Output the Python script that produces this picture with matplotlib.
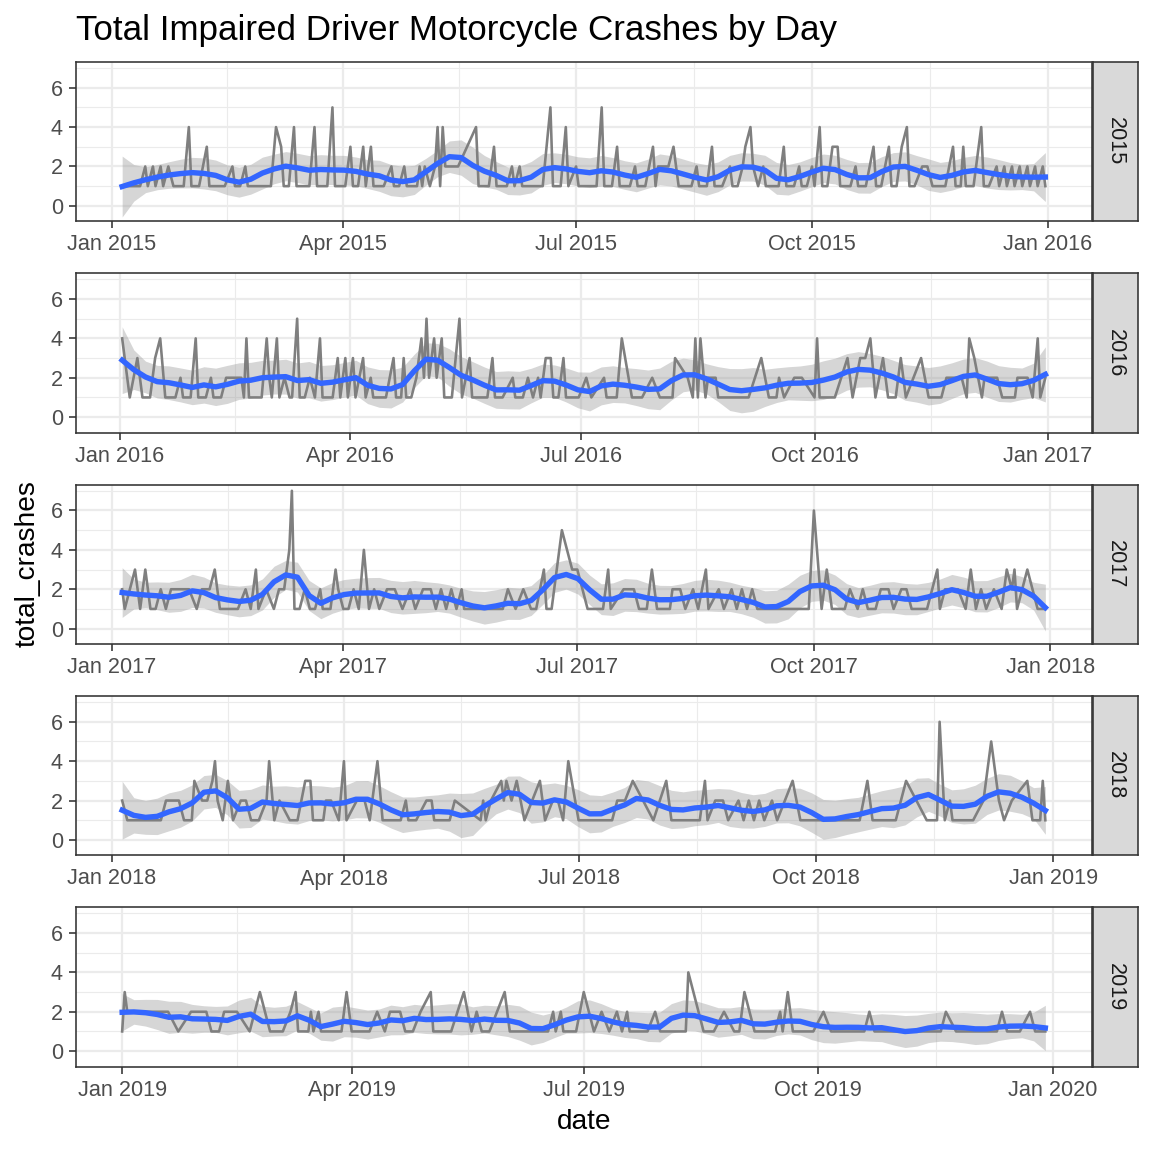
import datetime as dt

import matplotlib
matplotlib.use('Agg')
import matplotlib.pyplot as plt
import matplotlib.dates as mdates
import numpy as np

plt.rcParams['font.family'] = ['Liberation Sans', 'DejaVu Sans']

# ---- data: day of year (0 = Jan 1) and crash count, days with >=1 crash ----
years = [2015, 2016, 2017, 2018, 2019]

days_2015 = [4, 8, 11, 13, 14, 16, 17, 19, 20, 22,
             24, 26, 28, 30, 31, 34, 37, 38, 41, 44,
             47, 48, 50, 52, 53, 56, 59, 62, 64, 66,
             67, 69, 71, 72, 74, 77, 79, 80, 82, 84,
             86, 87, 89, 91, 93, 94, 96, 98, 99, 101,
             102, 104, 106, 109, 110, 112, 114, 115, 117, 119,
             120, 121, 122, 124, 126, 127, 128, 129, 130, 131,
             135, 142, 143, 145, 147, 149, 150, 152, 154, 156,
             157, 159, 160, 163, 166, 168, 171, 172, 175, 177,
             178, 181, 182, 183, 186, 189, 191, 192, 195, 197,
             198, 200, 202, 204, 205, 208, 211, 212, 213, 217,
             219, 221, 224, 226, 228, 229, 232, 234, 235, 238,
             241, 242, 244, 246, 247, 249, 250, 252, 254, 255,
             258, 260, 262, 263, 266, 268, 269, 271, 273, 274,
             276, 277, 279, 281, 283, 284, 286, 288, 290, 291,
             294, 297, 298, 300, 303, 304, 306, 308, 310, 311,
             313, 316, 318, 320, 322, 325, 328, 329, 331, 332,
             333, 336, 339, 340, 342, 345, 346, 348, 349, 351,
             352, 354, 355, 357, 358, 360, 361, 363, 364]
crashes_2015 = [1, 1, 1, 2, 1, 2, 1, 2, 1, 2,
                1, 1, 1, 4, 1, 1, 3, 1, 1, 1,
                2, 1, 1, 2, 1, 1, 1, 1, 4, 3,
                1, 1, 4, 1, 1, 1, 4, 1, 1, 1,
                5, 1, 1, 1, 3, 1, 1, 3, 1, 3,
                1, 1, 1, 2, 1, 1, 2, 1, 1, 1,
                2, 1, 2, 1, 2, 4, 1, 4, 2, 2,
                2, 4, 1, 1, 1, 3, 1, 1, 1, 2,
                1, 2, 1, 1, 1, 1, 5, 1, 1, 4,
                1, 2, 1, 1, 1, 1, 5, 1, 1, 3,
                1, 1, 1, 2, 1, 1, 3, 1, 2, 2,
                3, 1, 1, 1, 2, 1, 1, 3, 1, 1,
                2, 1, 1, 2, 3, 4, 2, 1, 2, 1,
                1, 1, 3, 1, 1, 2, 1, 1, 2, 1,
                4, 1, 1, 3, 3, 1, 1, 1, 2, 1,
                1, 3, 1, 1, 3, 1, 1, 3, 4, 1,
                1, 2, 2, 1, 1, 1, 3, 1, 1, 3,
                1, 1, 4, 1, 1, 2, 1, 2, 1, 2,
                1, 2, 1, 2, 1, 2, 1, 2, 1]

days_2016 = [1, 4, 7, 9, 12, 14, 16, 18, 20, 22,
             24, 25, 28, 30, 31, 34, 36, 37, 40, 42,
             45, 48, 49, 50, 51, 54, 56, 58, 59, 60,
             62, 63, 65, 67, 68, 70, 71, 73, 75, 77,
             79, 80, 82, 84, 86, 87, 89, 90, 92, 93,
             96, 97, 99, 100, 103, 105, 108, 109, 111, 112,
             113, 115, 117, 119, 120, 121, 122, 124, 125, 127,
             128, 131, 134, 135, 138, 139, 142, 145, 147, 148,
             151, 155, 156, 159, 161, 163, 165, 166, 168, 170,
             171, 173, 175, 176, 179, 181, 184, 186, 191, 192,
             196, 198, 202, 203, 206, 210, 213, 218, 219, 224,
             226, 227, 228, 229, 231, 232, 235, 236, 241, 248,
             253, 256, 259, 260, 262, 266, 269, 274, 275, 276,
             282, 287, 289, 292, 294, 296, 298, 301, 303, 306,
             308, 310, 313, 316, 319, 321, 324, 326, 332, 334,
             335, 337, 340, 341, 346, 348, 353, 354, 358, 360,
             362, 363, 365]
crashes_2016 = [4, 1, 3, 1, 1, 3, 4, 1, 1, 1,
                2, 1, 1, 4, 1, 1, 2, 1, 1, 2,
                2, 2, 1, 4, 1, 1, 1, 4, 2, 1,
                4, 1, 2, 1, 1, 5, 1, 1, 2, 1,
                4, 1, 1, 1, 3, 1, 3, 1, 3, 1,
                3, 1, 2, 1, 1, 1, 3, 1, 1, 3,
                1, 1, 2, 4, 2, 5, 2, 4, 2, 4,
                1, 1, 5, 1, 3, 1, 1, 1, 3, 1,
                1, 2, 1, 1, 2, 1, 2, 1, 3, 3,
                1, 1, 3, 1, 1, 1, 2, 1, 2, 1,
                1, 4, 1, 1, 1, 2, 1, 1, 3, 2,
                1, 4, 1, 4, 1, 2, 2, 1, 1, 1,
                3, 1, 1, 2, 1, 2, 2, 1, 4, 1,
                1, 3, 1, 3, 3, 4, 1, 3, 1, 1,
                3, 1, 2, 3, 1, 1, 1, 2, 2, 1,
                4, 3, 1, 2, 2, 1, 1, 2, 2, 1,
                4, 1, 2]

days_2017 = [4, 5, 9, 11, 13, 15, 17, 19, 21, 23,
             26, 30, 33, 35, 38, 40, 42, 44, 46, 49,
             52, 54, 56, 57, 60, 63, 65, 67, 69, 70,
             71, 73, 75, 77, 79, 81, 82, 85, 87, 88,
             90, 92, 94, 96, 98, 100, 102, 104, 107, 110,
             113, 116, 118, 121, 124, 126, 128, 130, 132, 134,
             136, 137, 140, 143, 146, 149, 152, 154, 157, 160,
             163, 165, 168, 169, 171, 173, 175, 179, 181, 183,
             185, 188, 191, 193, 194, 199, 203, 205, 208, 210,
             212, 215, 217, 218, 221, 223, 226, 228, 231, 232,
             236, 238, 241, 243, 245, 247, 249, 251, 255, 259,
             263, 267, 271, 273, 276, 278, 280, 285, 287, 290,
             292, 294, 297, 299, 302, 304, 307, 309, 311, 315,
             317, 319, 321, 322, 324, 326, 329, 332, 334, 336,
             338, 340, 343, 346, 348, 350, 351, 352, 356, 358,
             360, 362, 363]
crashes_2017 = [2, 1, 3, 1, 3, 1, 1, 2, 1, 2,
                2, 2, 1, 2, 2, 3, 1, 1, 1, 1,
                2, 1, 3, 1, 2, 1, 2, 2, 4, 7,
                1, 1, 2, 1, 1, 2, 1, 1, 3, 2,
                1, 1, 2, 1, 4, 1, 2, 1, 2, 2,
                1, 2, 1, 2, 2, 1, 2, 1, 2, 1,
                2, 1, 1, 1, 1, 1, 1, 2, 1, 2,
                1, 1, 3, 1, 1, 3, 5, 3, 3, 2,
                1, 1, 1, 3, 1, 2, 2, 1, 1, 3,
                1, 1, 1, 2, 2, 1, 2, 1, 3, 1,
                2, 1, 2, 1, 2, 1, 2, 1, 1, 1,
                1, 1, 1, 6, 1, 3, 1, 1, 2, 1,
                2, 1, 1, 2, 2, 1, 2, 2, 1, 1,
                1, 2, 3, 1, 2, 2, 2, 1, 3, 1,
                2, 1, 2, 1, 3, 2, 3, 1, 3, 2,
                1, 1, 1]

days_2018 = [4, 6, 9, 13, 17, 19, 21, 26, 28, 31,
             32, 35, 37, 39, 40, 41, 43, 45, 47, 50,
             52, 54, 57, 60, 61, 63, 65, 69, 72, 75,
             77, 78, 82, 83, 85, 88, 90, 91, 95, 98,
             100, 103, 105, 109, 112, 114, 115, 118, 122, 124,
             125, 128, 131, 133, 143, 144, 145, 147, 151, 152,
             153, 155, 157, 160, 166, 168, 171, 173, 175, 177,
             181, 186, 190, 194, 196, 199, 202, 210, 215, 217,
             221, 228, 230, 231, 234, 237, 239, 243, 245, 247,
             249, 251, 253, 256, 258, 261, 264, 267, 273, 277,
             281, 286, 290, 293, 295, 300, 304, 308, 312, 316,
             320, 321, 323, 325, 326, 331, 334, 338, 341, 344,
             346, 349, 355, 357, 360, 361, 362]
crashes_2018 = [2, 1, 1, 1, 1, 1, 2, 2, 1, 1,
                3, 2, 2, 3, 4, 2, 1, 3, 1, 2,
                2, 1, 1, 2, 4, 1, 2, 1, 1, 3,
                3, 1, 1, 2, 2, 1, 4, 1, 2, 2,
                1, 4, 1, 1, 1, 2, 1, 1, 2, 2,
                1, 1, 1, 2, 1, 2, 1, 2, 3, 2,
                3, 2, 3, 1, 3, 1, 2, 2, 1, 4,
                1, 1, 1, 1, 2, 2, 3, 1, 3, 1,
                1, 1, 3, 1, 2, 2, 1, 2, 1, 2,
                1, 2, 1, 2, 1, 2, 3, 1, 1, 1,
                1, 1, 1, 3, 1, 1, 1, 3, 2, 1,
                1, 6, 1, 2, 1, 1, 1, 2, 5, 2,
                1, 2, 3, 1, 1, 3, 1]

days_2019 = [0, 1, 2, 6, 10, 14, 18, 22, 27, 31,
             33, 35, 38, 40, 45, 50, 54, 58, 60, 63,
             66, 68, 69, 73, 74, 75, 77, 78, 82, 86,
             88, 90, 95, 97, 100, 103, 105, 109, 111, 114,
             117, 121, 122, 126, 129, 134, 137, 139, 141, 144,
             150, 152, 158, 163, 167, 169, 170, 172, 173, 178,
             181, 185, 188, 191, 194, 196, 198, 199, 203, 206,
             209, 211, 216, 221, 222, 228, 232, 236, 240, 242,
             244, 248, 252, 256, 258, 259, 261, 263, 267, 271,
             275, 278, 283, 287, 291, 293, 295, 300, 305, 310,
             316, 321, 323, 327, 333, 338, 343, 345, 347, 352,
             356, 358, 362]
crashes_2019 = [1, 3, 2, 2, 2, 2, 2, 1, 2, 2,
                2, 1, 1, 2, 2, 1, 3, 1, 1, 1,
                2, 3, 1, 1, 2, 1, 2, 1, 1, 1,
                3, 1, 1, 1, 2, 1, 2, 2, 1, 1,
                2, 3, 1, 1, 1, 3, 1, 2, 1, 1,
                3, 1, 1, 1, 1, 2, 1, 2, 1, 1,
                3, 1, 2, 1, 2, 1, 2, 1, 1, 1,
                2, 1, 1, 1, 4, 1, 1, 2, 1, 1,
                3, 1, 1, 1, 2, 1, 3, 1, 1, 1,
                2, 1, 1, 1, 1, 2, 1, 1, 1, 1,
                1, 1, 2, 1, 1, 1, 1, 2, 1, 1,
                2, 1, 1]

all_days = [days_2015, days_2016, days_2017, days_2018, days_2019]
all_crashes = [crashes_2015, crashes_2016, crashes_2017, crashes_2018, crashes_2019]

title = 'Total Impaired Driver Motorcycle Crashes by Day'
x_label = 'date'
y_label = 'total_crashes'
y_ticks = [0, 2, 4, 6]


def loess(x, y, x_new, span=0.12):
    # local quadratic regression with tricube weights (like R's loess)
    n = len(x)
    q = max(int(np.floor(n * span)), 4)

    def op_row(x0):
        d = np.abs(x - x0)
        h = np.sort(d)[q - 1]
        w = np.clip(1 - (d / h) ** 3, 0, None) ** 3
        A = np.column_stack([np.ones(n), x - x0, (x - x0) ** 2])
        AtW = A.T * w
        return np.linalg.solve(AtW @ A, AtW)[0]

    L = np.array([op_row(x0) for x0 in x])
    M = np.eye(n) - L
    one_delta = np.sum(M ** 2)
    sigma = np.sqrt(np.sum((M @ y) ** 2) / one_delta)
    P = np.array([op_row(x0) for x0 in x_new])
    fit = P @ y
    se = sigma * np.sqrt(np.sum(P ** 2, axis=1))
    return fit, fit - 1.97 * se, fit + 1.97 * se


W = H = 1152
fig = plt.figure(figsize=(8, 8), dpi=144)


def px_axes(x0, y0, w, h):
    return fig.add_axes([x0 / W, 1 - (y0 + h) / H, w / W, h / H])


panel_left, panel_right, strip_right = 76, 1091.5, 1137.5
panel_h = 159.5
panel_tops = [61.7, 273.0, 484.5, 695.8, 907.0]

for year, days, crashes, top in zip(years, all_days, all_crashes, panel_tops):
    ax = px_axes(panel_left, top, panel_right - panel_left, panel_h)
    x = np.array(days, dtype=float)
    y = np.array(crashes, dtype=float)
    base = mdates.date2num(dt.datetime(year, 1, 1))
    xs = np.linspace(x.min(), x.max(), 80)
    fit, lo, hi = loess(x, y, xs)

    ax.fill_between(base + xs, lo, hi, color='#999999', alpha=0.4, lw=0, zorder=2)
    ax.plot(base + x, y, color='#7f7f7f', lw=1.3, zorder=3)
    ax.plot(base + xs, fit, color='#3366FF', lw=2.7, zorder=4)

    span = x.max() - x.min()
    ax.set_xlim(base + x.min() - 0.05 * span, base + x.max() + 0.05 * span)
    ax.set_ylim(-0.78, 7.32)

    majors = [dt.datetime(year, m, 1) for m in (1, 4, 7, 10)] + [dt.datetime(year + 1, 1, 1)]
    major_num = mdates.date2num(majors)
    minor_num = (major_num[:-1] + major_num[1:]) / 2
    ax.set_xticks(major_num)
    ax.set_xticklabels([d.strftime('%b %Y') for d in majors])
    ax.set_xticks(minor_num, minor=True)
    ax.set_yticks(y_ticks)
    ax.set_yticks([1, 3, 5, 7], minor=True)

    ax.set_axisbelow(True)
    ax.grid(which='major', color='#EBEBEB', lw=1.1)
    ax.grid(which='minor', color='#EBEBEB', lw=0.55)
    ax.tick_params(which='major', length=3.6, width=0.8, color='#333333',
                   labelsize=10.8, labelcolor='#4D4D4D', pad=3)
    ax.tick_params(which='minor', length=0)
    for s in ax.spines.values():
        s.set_color('#333333')
        s.set_linewidth(0.8)

    # facet strip on the right
    sax = px_axes(panel_right + 1, top, strip_right - panel_right - 1, panel_h)
    sax.set_facecolor('#D9D9D9')
    sax.set_xticks([])
    sax.set_yticks([])
    for s in sax.spines.values():
        s.set_color('#333333')
        s.set_linewidth(0.8)
    sax.text(0.5, 0.5, str(year), rotation=-90, ha='center', va='center',
             fontsize=10.8, color='#1A1A1A', transform=sax.transAxes)

fig.text(76 / W, 1 - 40 / H, title, ha='left', va='baseline', fontsize=17.5, color='black')
fig.text((panel_left + panel_right) / 2 / W, 1 - 1122 / H, x_label,
         ha='center', va='center', fontsize=14, color='black')
fig.text(28 / W, 1 - 564 / H, y_label, rotation=90,
         ha='center', va='center', fontsize=14, color='black')

fig.savefig('out.png', dpi=144, facecolor='white')
